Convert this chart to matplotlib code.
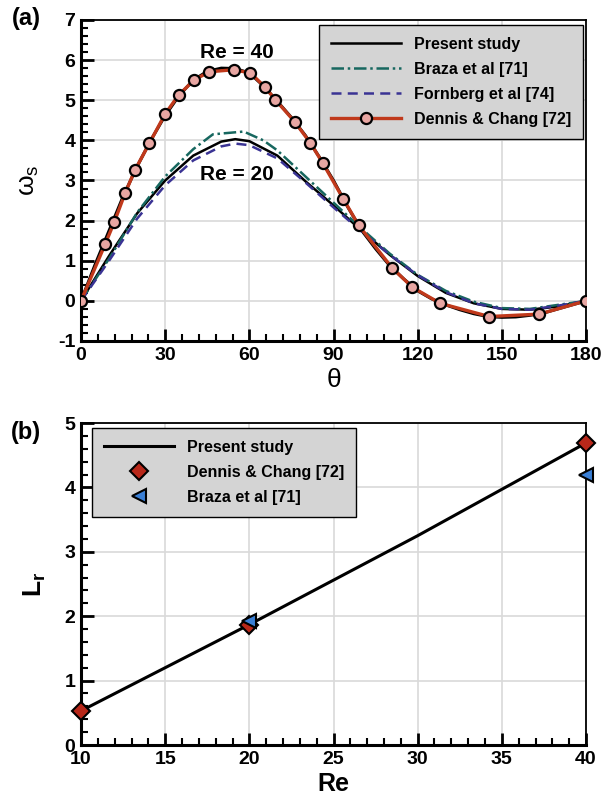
import numpy as np
import matplotlib
matplotlib.use('Agg')
import matplotlib.pyplot as plt
from matplotlib.ticker import MultipleLocator

plt.rcParams['font.family'] = ['Liberation Sans', 'DejaVu Sans']
plt.rcParams['mathtext.fontset'] = 'custom'
plt.rcParams['mathtext.rm'] = 'Liberation Sans'
plt.rcParams['mathtext.it'] = 'Liberation Sans'
plt.rcParams['mathtext.bf'] = 'Liberation Sans:bold'
plt.rcParams['axes.unicode_minus'] = False

# (a) surface vorticity vs theta
theta_p40 = [0, 5, 10, 15, 20, 25, 30, 35, 40, 45, 50, 55, 60, 65, 70, 75, 80, 85, 90,
             95, 100, 105, 110, 115, 120, 125, 130, 135, 140, 145, 150, 155, 160, 165, 170, 175, 180]
w_p40 = [0, 0.9, 1.75, 2.6, 3.35, 4.02, 4.62, 5.12, 5.5, 5.72, 5.8, 5.79, 5.68, 5.36, 4.97, 4.57, 4.12, 3.58, 3.0,
         2.35, 1.76, 1.3, 0.88, 0.55, 0.25, 0.05, -0.1, -0.22, -0.32, -0.39, -0.41, -0.4, -0.36, -0.3, -0.2, -0.1, 0]

theta_p20 = [0, 10, 20, 30, 40, 50, 55, 60, 70, 80, 90, 100, 110, 120, 130, 140, 150, 160, 170, 180]
w_p20 = [0, 1.12, 2.18, 3.0, 3.62, 3.97, 4.03, 3.98, 3.62, 2.98, 2.38, 1.75, 1.15, 0.62, 0.2, -0.06, -0.2, -0.22, -0.14, 0]

theta_braza = [0, 10, 20, 30, 40, 47, 50, 58, 65, 70, 80, 90, 100, 110, 120, 130, 140, 150, 160, 170, 180]
w_braza = [0, 1.05, 2.2, 3.1, 3.78, 4.15, 4.17, 4.22, 4.0, 3.75, 3.1, 2.45, 1.8, 1.18, 0.65, 0.25, -0.02, -0.18, -0.2, -0.1, 0]

theta_forn = [0, 10, 20, 30, 40, 50, 55, 60, 70, 80, 90, 100, 110, 120, 130, 140, 150, 160, 170, 180]
w_forn = [0, 1.0, 2.05, 2.88, 3.5, 3.85, 3.92, 3.88, 3.55, 2.95, 2.33, 1.73, 1.15, 0.64, 0.22, -0.06, -0.2, -0.22, -0.12, 0]

theta_dc = [0, 8.6, 11.9, 15.7, 19.3, 24.4, 30.0, 34.8, 40.4, 45.8, 54.4, 60.4, 65.7, 69.3, 76.1,
            81.8, 86.2, 93.5, 99.0, 110.9, 118.1, 128.0, 145.5, 163.3, 180]
w_dc = [0, 1.41, 1.97, 2.68, 3.27, 3.93, 4.66, 5.13, 5.51, 5.71, 5.76, 5.68, 5.32, 5.01, 4.47,
        3.93, 3.43, 2.54, 1.88, 0.82, 0.34, -0.06, -0.39, -0.33, 0]

# (b) recirculation length vs Re
re_present = [10, 20, 30, 40]
lr_present = [0.53, 1.87, 3.25, 4.69]
re_dc = [10, 20, 40]
lr_dc = [0.53, 1.87, 4.69]
re_braza = [20, 40]
lr_braza = [1.92, 4.2]

fig = plt.figure(figsize=(6.01, 8.01), dpi=100)
W, H = 601.0, 801.0
ax1 = fig.add_axes([81 / W, 1 - 341 / H, 505 / W, 321 / H])
ax2 = fig.add_axes([81 / W, 1 - 745 / H, 505 / W, 322 / H])


def style(ax):
    ax.grid(True, color='#d9d9d9', linewidth=1.2, zorder=0)
    ax.set_axisbelow(True)
    for s in ['left', 'bottom']:
        ax.spines[s].set_linewidth(2.2)
    for s in ['top', 'right']:
        ax.spines[s].set_linewidth(1.3)
    ax.tick_params(which='major', direction='in', length=9, width=2, labelsize=14, pad=4)
    ax.tick_params(which='minor', direction='in', length=5, width=1.5)
    for lab in ax.get_xticklabels() + ax.get_yticklabels():
        lab.set_fontweight('bold')


# panel (a)
ax1.plot(theta_p40, w_p40, color='black', lw=2.2, zorder=3)
ax1.plot(theta_dc, w_dc, color='#c0391b', lw=2.4, marker='o', ms=8, mfc='#e8a6a2',
         mec='black', mew=1.6, zorder=4, label='Dennis & Chang [72]')
ax1.plot(theta_p20, w_p20, color='black', lw=1.8, zorder=3, label='Present study')
ax1.plot(theta_braza, w_braza, color='#17675f', lw=1.8, ls=(0, (5, 1.5, 1, 1.5)), zorder=3,
         label='Braza et al [71]')
ax1.plot(theta_forn, w_forn, color='#3a3394', lw=1.8, ls=(0, (4, 2.5)), zorder=3,
         label='Fornberg et al [74]')
ax1.set_xlim(0, 180)
ax1.set_ylim(-1, 7)
ax1.xaxis.set_major_locator(MultipleLocator(30))
ax1.xaxis.set_minor_locator(MultipleLocator(6))
ax1.yaxis.set_major_locator(MultipleLocator(1))
ax1.yaxis.set_minor_locator(MultipleLocator(0.2))
style(ax1)
ax1.set_xlabel('θ', fontsize=19, labelpad=3)
ax1.set_ylabel(r'$\omega_s$', fontsize=19, labelpad=12)
ax1.text(55.5, 6.2, 'Re = 40', fontsize=15, fontweight='bold', ha='center', va='center')
ax1.text(55.5, 3.15, 'Re = 20', fontsize=15, fontweight='bold', ha='center', va='center')

h, l = ax1.get_legend_handles_labels()
order = [1, 2, 3, 0]
leg1 = ax1.legend([h[i] for i in order], [l[i] for i in order], loc='upper right',
                  bbox_to_anchor=(583 / W, 1 - 25 / H), bbox_transform=fig.transFigure,
                  borderaxespad=0, fancybox=False, framealpha=1, facecolor='#d4d4d4',
                  edgecolor='black', prop={'weight': 'bold', 'size': 11.5},
                  handlelength=4.4, labelspacing=0.62, borderpad=0.75, handletextpad=0.8)
leg1.get_frame().set_linewidth(1.0)

# panel (b)
ax2.plot(re_present, lr_present, color='black', lw=2.2, zorder=3, label='Present study')
ax2.plot(re_dc, lr_dc, ls='none', marker='D', ms=9, mfc='#b8281a', mec='black', mew=1.5,
         zorder=4, clip_on=False, label='Dennis & Chang [72]')
ax2.plot(re_braza, lr_braza, ls='none', marker='<', ms=10, mfc='#3a7fd5', mec='black', mew=1.5,
         zorder=5, clip_on=False, label='Braza et al [71]')
ax2.set_xlim(10, 40)
ax2.set_ylim(0, 5)
ax2.xaxis.set_major_locator(MultipleLocator(5))
ax2.xaxis.set_minor_locator(MultipleLocator(1))
ax2.yaxis.set_major_locator(MultipleLocator(1))
ax2.yaxis.set_minor_locator(MultipleLocator(0.2))
style(ax2)
ax2.set_xlabel('Re', fontsize=18, fontweight='bold', labelpad=3)
ax2.set_ylabel(r'$\mathbf{L_r}$', fontsize=19, labelpad=12)
leg2 = ax2.legend(loc='upper left', bbox_to_anchor=(92 / W, 1 - 428 / H),
                  bbox_transform=fig.transFigure, borderaxespad=0, fancybox=False,
                  framealpha=1, facecolor='#d4d4d4', edgecolor='black',
                  prop={'weight': 'bold', 'size': 11.5}, handlelength=4.4,
                  labelspacing=0.62, borderpad=0.75, handletextpad=0.8)
leg2.get_frame().set_linewidth(1.0)

fig.text(26 / W, 1 - 19 / H, '(a)', fontsize=17, fontweight='bold', ha='center', va='center')
fig.text(26 / W, 1 - 432 / H, '(b)', fontsize=17, fontweight='bold', ha='center', va='center')

fig.savefig('out.png', dpi=100)
